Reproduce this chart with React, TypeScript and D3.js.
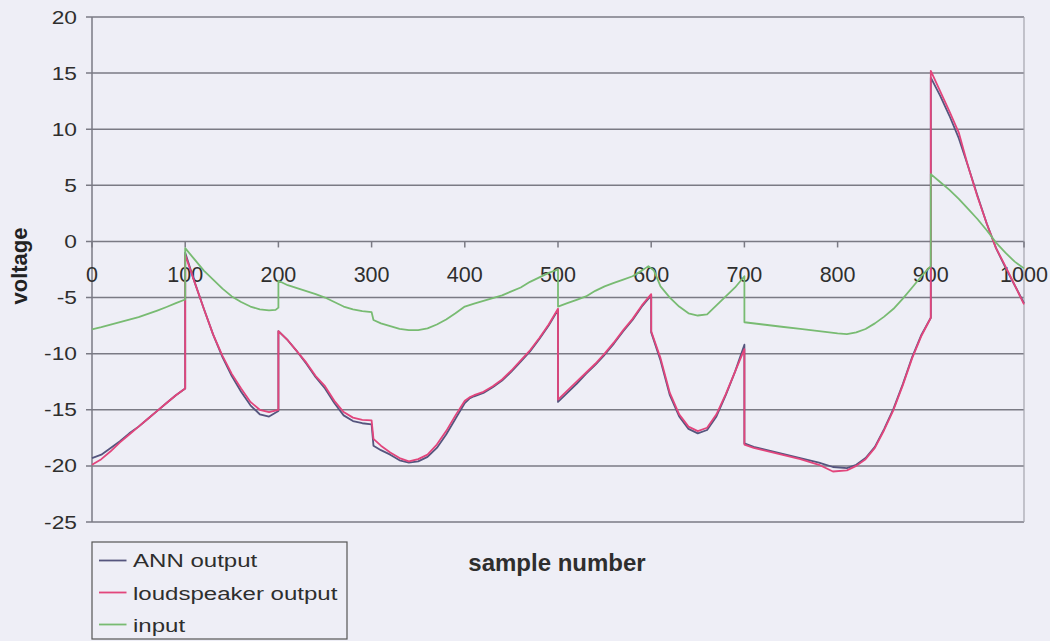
import React from 'react';
import * as d3 from 'd3';

// sample number / voltage pairs (duplicate x = vertical jump)
const annOutput: [number, number][] = [
  [0, -19.3], [10, -19.0], [20, -18.4], [30, -17.8], [40, -17.1], [50, -16.5], [60, -15.8], [70, -15.1],
  [80, -14.4], [90, -13.7], [100, -13.1], [100, -1.0], [110, -3.6], [120, -6.0], [130, -8.3], [140, -10.3],
  [150, -12.0], [160, -13.4], [170, -14.6], [180, -15.4], [190, -15.6], [200, -15.1], [200, -8.0],
  [210, -8.8], [220, -9.8], [230, -10.9], [240, -12.1], [250, -13.1], [260, -14.4], [270, -15.5],
  [280, -16.0], [290, -16.2], [300, -16.3], [302, -18.2], [310, -18.6], [320, -19.0], [330, -19.5],
  [340, -19.7], [350, -19.6], [360, -19.2], [370, -18.4], [380, -17.2], [390, -15.8], [400, -14.4],
  [405, -14.0], [410, -13.8], [420, -13.5], [430, -13.0], [440, -12.4], [450, -11.6], [460, -10.7],
  [470, -9.8], [480, -8.7], [490, -7.5], [500, -6.1], [500, -14.3], [510, -13.5], [520, -12.7],
  [530, -11.8], [540, -11.0], [550, -10.1], [560, -9.1], [570, -8.0], [580, -7.0], [590, -5.8],
  [600, -4.8], [600, -8.1], [610, -10.6], [620, -13.7], [630, -15.6], [640, -16.7], [650, -17.1],
  [660, -16.8], [670, -15.6], [680, -13.7], [690, -11.6], [700, -9.2], [700, -18.0], [710, -18.3],
  [720, -18.5], [740, -18.9], [760, -19.3], [780, -19.7], [795, -20.1], [810, -20.2], [820, -19.9],
  [830, -19.3], [840, -18.3], [850, -16.7], [860, -14.9], [870, -12.7], [880, -10.3], [890, -8.3],
  [900, -6.8], [900, 14.6], [910, 13.0], [920, 11.2], [930, 9.2], [940, 6.7], [950, 4.1], [960, 1.6],
  [970, -0.6], [980, -2.3], [990, -3.9], [1000, -5.5]
];

const loudspeakerOutput: [number, number][] = [
  [0, -19.9], [10, -19.4], [20, -18.7], [30, -17.9], [40, -17.2], [50, -16.5], [60, -15.8], [70, -15.1],
  [80, -14.4], [90, -13.7], [100, -13.1], [100, -1.2], [110, -3.6], [120, -6.0], [130, -8.3], [140, -10.2],
  [150, -11.8], [160, -13.1], [170, -14.3], [180, -15.0], [190, -15.2], [200, -15.0], [200, -8.0],
  [210, -8.8], [220, -9.8], [230, -10.8], [240, -12.0], [250, -12.9], [260, -14.2], [270, -15.2],
  [280, -15.7], [290, -15.9], [300, -15.95], [302, -17.6], [310, -18.2], [320, -18.8], [330, -19.3],
  [340, -19.6], [350, -19.4], [360, -19.0], [370, -18.1], [380, -16.9], [390, -15.5], [400, -14.2],
  [405, -13.9], [410, -13.7], [420, -13.4], [430, -12.9], [440, -12.3], [450, -11.5], [460, -10.6],
  [470, -9.7], [480, -8.6], [490, -7.4], [500, -6.0], [500, -14.1], [510, -13.3], [520, -12.5],
  [530, -11.7], [540, -10.9], [550, -10.0], [560, -9.0], [570, -7.9], [580, -6.9], [590, -5.7],
  [600, -4.7], [600, -8.0], [610, -10.4], [620, -13.5], [630, -15.4], [640, -16.5], [650, -16.9],
  [660, -16.6], [670, -15.4], [680, -13.6], [690, -11.6], [700, -9.6], [700, -18.1], [710, -18.4],
  [720, -18.6], [740, -19.0], [760, -19.4], [780, -19.9], [795, -20.5], [810, -20.4], [820, -20.0],
  [830, -19.4], [840, -18.4], [850, -16.8], [860, -15.0], [870, -12.8], [880, -10.4], [890, -8.4],
  [900, -6.8], [900, 15.2], [910, 13.4], [920, 11.6], [930, 9.7], [940, 6.7], [950, 4.0], [960, 1.6],
  [970, -0.6], [980, -2.2], [990, -3.9], [1000, -5.6]
];

const input: [number, number][] = [
  [0, -7.84], [10, -7.64], [20, -7.42], [30, -7.2], [40, -6.97], [50, -6.74], [60, -6.46], [70, -6.16],
  [80, -5.84], [90, -5.5], [100, -5.17], [100, -0.6], [110, -1.6], [120, -2.6], [130, -3.4], [140, -4.2],
  [150, -4.9], [160, -5.4], [170, -5.8], [180, -6.05], [190, -6.15], [197, -6.1], [200, -5.9], [200, -3.5],
  [210, -3.9], [225, -4.3], [240, -4.7], [250, -5.0], [260, -5.4], [270, -5.8], [280, -6.05], [290, -6.2],
  [300, -6.3], [302, -7.0], [310, -7.3], [320, -7.55], [330, -7.8], [340, -7.9], [350, -7.9], [360, -7.75],
  [370, -7.4], [380, -6.95], [390, -6.4], [400, -5.8], [410, -5.55], [420, -5.3], [430, -5.05], [440, -4.8],
  [450, -4.45], [460, -4.1], [470, -3.6], [480, -3.2], [490, -2.8], [500, -2.5], [500, -5.8], [510, -5.5],
  [520, -5.2], [530, -4.9], [540, -4.4], [550, -4.0], [560, -3.7], [570, -3.4], [580, -3.1], [590, -2.6],
  [597, -2.2], [603, -2.6], [610, -4.0], [620, -5.0], [630, -5.8], [640, -6.4], [650, -6.6], [660, -6.5],
  [670, -5.7], [680, -4.9], [690, -4.1], [700, -3.1], [700, -7.2], [720, -7.4], [740, -7.6], [760, -7.8],
  [780, -8.0], [800, -8.2], [810, -8.25], [820, -8.1], [830, -7.8], [840, -7.3], [850, -6.7], [860, -6.0],
  [870, -5.1], [880, -4.1], [890, -3.1], [900, -2.2], [900, 6.0], [910, 5.3], [920, 4.6], [930, 3.8],
  [940, 2.9], [950, 2.0], [960, 1.0], [970, -0.1], [980, -1.0], [990, -1.8], [1000, -2.4]
];

const xTicks = [0, 100, 200, 300, 400, 500, 600, 700, 800, 900, 1000];
const yTicks = [20, 15, 10, 5, 0, -5, -10, -15, -20, -25];

const seriesNames = ['ANN output', 'loudspeaker output', 'input'];
const seriesColors = ['#55557e', '#e2457c', '#78bb72'];

const font = '"Liberation Sans", Arial, sans-serif';

export default function App() {
  const width = 1050;
  const height = 641;
  const plot = { left: 92, right: 1024, top: 17, bottom: 522 };

  const x = d3.scaleLinear().domain([0, 1000]).range([plot.left, plot.right]);
  const y = d3.scaleLinear().domain([-25, 20]).range([plot.bottom, plot.top]);

  const line = d3
    .line<[number, number]>()
    .x(d => x(d[0]))
    .y(d => y(d[1]));

  const allSeries = [annOutput, loudspeakerOutput, input];
  const stretch = 1.3; // scan is squeezed sideways, text looks wider than tall

  return (
    <svg
      width={width}
      height={height}
      style={{ position: 'absolute', left: 0, top: 0, display: 'block' }}
      fontFamily={font}
    >
      <rect x={0} y={0} width={width} height={height} fill="#eeeef6" />

      {/* horizontal grid */}
      {yTicks.map(t => (
        <line key={'g' + t} x1={plot.left - 6} x2={plot.right} y1={y(t)} y2={y(t)} stroke="#7a7a84" strokeWidth={1.5} />
      ))}
      <line x1={plot.left} x2={plot.left} y1={plot.top} y2={plot.bottom} stroke="#7a7a84" strokeWidth={1.5} />
      <line x1={plot.right} x2={plot.right} y1={plot.top} y2={plot.bottom} stroke="#a4a4ae" strokeWidth={1.2} />

      {/* y tick labels */}
      {yTicks.map(t => (
        <text
          key={'yl' + t}
          transform={`translate(77,${y(t) + 6.5}) scale(${stretch},1)`}
          textAnchor="end"
          fontSize={17.5}
          fill="#2e2e2e"
        >
          {t}
        </text>
      ))}

      {/* x axis ticks on the zero line */}
      {xTicks.map(t => (
        <line key={'xt' + t} x1={x(t)} x2={x(t)} y1={y(0)} y2={y(0) + 6} stroke="#7a7a84" strokeWidth={1.5} />
      ))}
      {xTicks.map(t => (
        <text key={'xl' + t} x={x(t)} y={y(0) + 40.5} textAnchor="middle" fontSize={21.5} fill="#2e2e2e">
          {t}
        </text>
      ))}

      {/* series */}
      {allSeries.map((s, i) => (
        <path key={seriesNames[i]} d={line(s) || ''} fill="none" stroke={seriesColors[i]} strokeWidth={1.8} strokeLinejoin="round" />
      ))}

      {/* axis titles */}
      <text
        transform="translate(27,266) rotate(-90)"
        textAnchor="middle"
        fontSize={22}
        fontWeight="bold"
        fill="#222"
      >
        voltage
      </text>
      <text x={557} y={571} textAnchor="middle" fontSize={24} fontWeight="bold" fill="#2e2e2e">
        sample number
      </text>

      {/* legend */}
      <rect x={92} y={542} width={255} height={97} fill="none" stroke="#555" strokeWidth={1.2} />
      {seriesNames.map((name, i) => (
        <g key={'lg' + name}>
          <line x1={99} x2={126.5} y1={560.5 + i * 32} y2={560.5 + i * 32} stroke={seriesColors[i]} strokeWidth={1.8} />
          <text
            transform={`translate(133,${567 + i * 32.5}) scale(${stretch},1)`}
            fontSize={18.5}
            fill="#2e2e2e"
          >
            {name}
          </text>
        </g>
      ))}
    </svg>
  );
}
